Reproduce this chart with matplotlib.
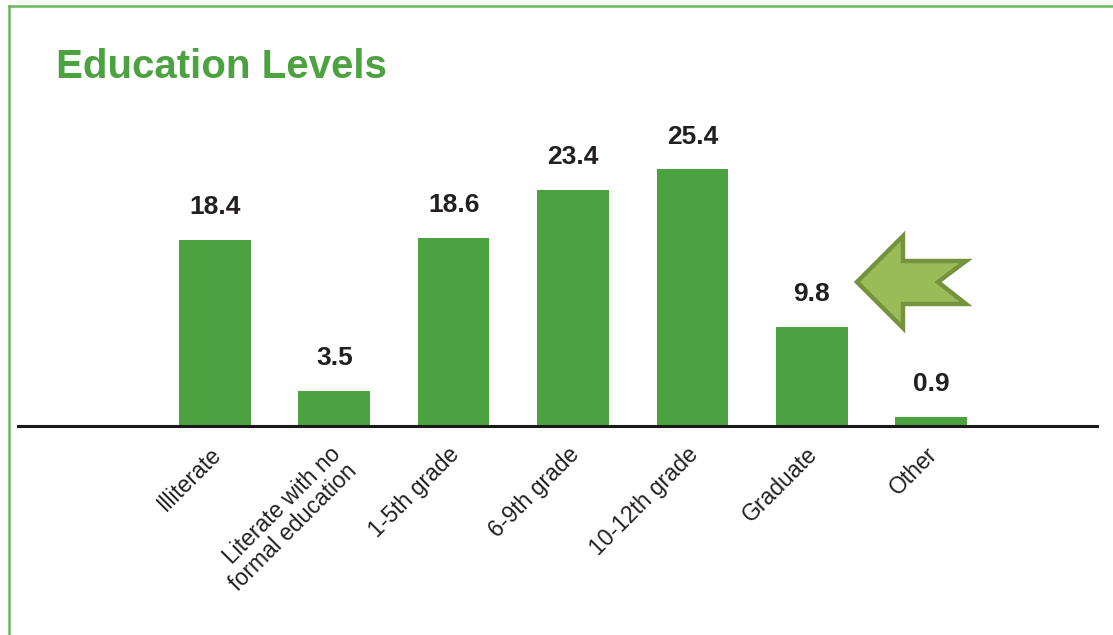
#---- Imports ----------------------------------------------------------------#

import matplotlib
matplotlib.use('Agg')
import matplotlib.pyplot as plt
from matplotlib.patches import Polygon
from matplotlib.lines import Line2D
from matplotlib.transforms import ScaledTranslation

#---- Data -------------------------------------------------------------------#

categories = ['Illiterate', 'Literate with no\nformal education', '1-5th grade',
              '6-9th grade', '10-12th grade', 'Graduate', 'Other']
values = [18.4, 3.5, 18.6, 23.4, 25.4, 9.8, 0.9]
title = 'Education Levels'

#---- Style ------------------------------------------------------------------#

green = '#4ca240'
fam = ['Liberation Sans', 'DejaVu Sans']
W, H = 1113, 635

#---- Plotting ---------------------------------------------------------------#

fig = plt.figure(figsize=(W/100, H/100), dpi=100)
ax = fig.add_axes([18/W, (H-426)/H, (1097-18)/W, 303/H])

x = range(len(values))
ax.bar(x, values, width=0.6, color=green, zorder=2)
ax.set_xlim(-1.65, 7.39)
ax.set_ylim(0, 30)

for xi, v in zip(x, values):                    #Value labels above bars
    ax.annotate(f'{v}', (xi, v), xytext=(0, 15), textcoords='offset points',
                ha='center', va='bottom', fontsize=19, fontweight='bold',
                color='#231f20', family=fam)

ax.set_xticks(list(x))
ax.set_xticklabels(categories, rotation=45, ha='right', va='top',
                   rotation_mode='anchor', fontsize=16.5, family=fam,
                   color='#231f20', linespacing=1.0)
ax.tick_params(axis='x', length=0, pad=12)
shift = ScaledTranslation(-4/72, 0, fig.dpi_scale_trans)
for lab in ax.get_xticklabels():
    lab.set_transform(lab.get_transform() + shift)

ax.set_yticks([])
for s in ['top', 'left', 'right']:
    ax.spines[s].set_visible(False)
ax.spines['bottom'].set_linewidth(2.2)
ax.spines['bottom'].set_color('#1a1a1a')

#Title
fig.text(56/W, 1-78/H, title, fontsize=29, fontweight='bold', color=green,
         family=fam, va='baseline', ha='left')

#Frame lines (top and left)
fig.add_artist(Line2D([9/W, 1], [1-6/H, 1-6/H], color='#6ab85a', lw=1.8))
fig.add_artist(Line2D([9/W, 9/W], [0, 1-6/H], color='#6ab85a', lw=1.8))

#Pointer arrow next to the Graduate bar
pts = [(857, 282), (903, 236), (903, 261), (966, 261), (938, 282),
       (966, 304), (903, 304), (903, 328)]
arrow = Polygon([(px/W, 1-py/H) for px, py in pts], closed=True,
                facecolor='#9bbb59', edgecolor='#76923c', lw=3.2,
                transform=fig.transFigure)
fig.add_artist(arrow)

plt.savefig('out.png', dpi=100)
